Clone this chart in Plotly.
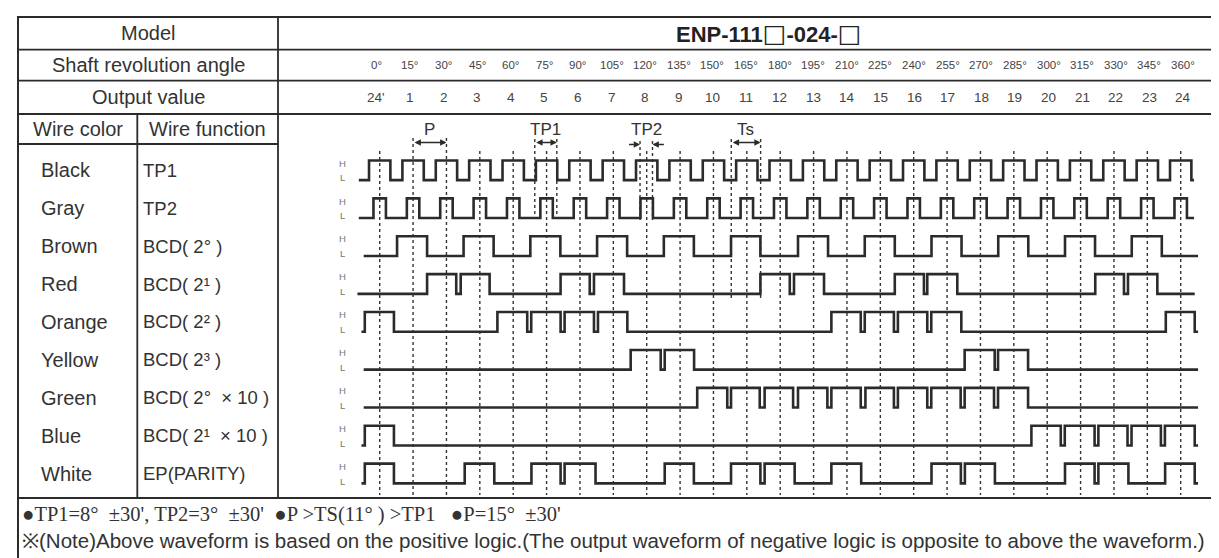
import plotly.graph_objects as go

W, H = 1219, 558

# ---------------- data ----------------
angles = [0, 15, 30, 45, 60, 75, 90, 105, 120, 135, 150, 165, 180, 195, 210, 225,
          240, 255, 270, 285, 300, 315, 330, 345, 360]
angle_labels = ["0°", "15°", "30°", "45°", "60°", "75°", "90°", "105°", "120°", "135°",
                "150°", "165°", "180°", "195°", "210°", "225°", "240°", "255°", "270°",
                "285°", "300°", "315°", "330°", "345°", "360°"]
output_labels = ["24'", "1", "2", "3", "4", "5", "6", "7", "8", "9", "10", "11", "12",
                 "13", "14", "15", "16", "17", "18", "19", "20", "21", "22", "23", "24"]

wire_colors = ["Black", "Gray", "Brown", "Red", "Orange", "Yellow", "Green", "Blue", "White"]
wire_functions = ["TP1", "TP2", "BCD( 2° )", "BCD( 2¹ )", "BCD( 2² )", "BCD( 2³ )",
                  "BCD( 2°  × 10 )", "BCD( 2¹  × 10 )", "EP(PARITY)"]

# waveform start / end angle (deg) and toggle angles (level starts Low)
wave_start = [-9.4, -9.4, -7.2, -10.0, -8.2, -7.2, -7.2, -8.2, -8.2]
wave_end = [366.0, 366.0, 367.8, 366.3, 367.8, 367.8, 367.8, 367.8, 367.8]

black_edges = [-4.8, 4.8, 10.2, 19.8, 25.2, 34.8, 40.2, 49.8, 55.2, 64.8, 70.2, 79.8,
               85.2, 94.8, 100.2, 109.8, 115.2, 124.8, 130.2, 139.8, 145.2, 154.8,
               160.2, 169.8, 175.2, 184.8, 190.2, 199.8, 205.2, 214.8, 220.2, 229.8,
               235.2, 244.8, 250.2, 259.8, 265.2, 274.8, 280.2, 289.8, 295.2, 304.8,
               310.2, 319.8, 325.2, 334.8, 340.2, 349.8, 355.2, 364.8]
gray_edges = [-2.8, 2.8, 12.2, 17.8, 27.2, 32.8, 42.2, 47.8, 57.2, 62.8, 72.2, 77.8,
              87.2, 92.8, 102.2, 107.8, 117.2, 122.8, 132.2, 137.8, 147.2, 152.8,
              162.2, 167.8, 177.2, 182.8, 192.2, 197.8, 207.2, 212.8, 222.2, 227.8,
              237.2, 242.8, 252.2, 257.8, 267.2, 272.8, 282.2, 287.8, 297.2, 302.8,
              312.2, 317.8, 327.2, 332.8, 342.2, 347.8, 357.2, 362.8]
brown_edges = [7.8, 21.3, 37.7, 51.2, 67.7, 81.2, 97.7, 111.2, 127.7, 141.2, 157.9, 171.1,
               188.0, 201.5, 218.0, 231.5, 248.0, 261.5, 278.0, 291.5, 308.0, 321.5,
               338.0, 351.5]
red_edges = [21.3, 34.4, 36.4, 49.4, 81.3, 94.4, 96.3, 109.8, 171.1, 184.3, 186.2, 199.7,
             231.5, 244.6, 246.1, 259.6, 321.6, 334.5, 336.3, 349.5]
orange_edges = [-6.7, 6.4, 52.9, 66.3, 68.1, 81.3, 83.1, 96.3, 98.1, 111.3, 203.0, 216.2,
                218.0, 231.1, 232.9, 246.1, 247.9, 261.4, 353.3, 366.3]
yellow_edges = [112.8, 126.3, 128.1, 141.3, 262.9, 276.4, 277.9, 291.4]
green_edges = [142.7, 156.2, 157.9, 170.8, 173.0, 185.8, 188.0, 201.2, 203.0, 216.2,
               218.3, 231.1, 232.9, 246.1, 247.9, 261.1, 262.9, 276.1, 277.9, 291.4]
blue_edges = [-6.7, 6.4, 292.9, 306.1, 307.9, 321.3, 323.0, 336.1, 337.9, 351.1,
              352.9, 366.3]
white_edges = [-6.7, 6.4, 38.2, 51.5, 68.2, 81.3, 83.1, 97.0, 128.1, 141.2, 157.9, 171.1,
               173.0, 186.5, 203.0, 216.4, 248.0, 261.2, 263.0, 276.5, 308.0, 321.3,
               323.0, 336.5, 353.0, 366.3]
wave_edges = [black_edges, gray_edges, brown_edges, red_edges, orange_edges,
              yellow_edges, green_edges, blue_edges, white_edges]

# timing markers (deg)
p_marker = [15, 30]
tp1_marker = [69.7, 79.6]
tp2_marker = [117.0, 122.6]
ts_marker = [158.0, 171.2]

model_parts = ["ENP-111", "-024-", ""]
note1 = "●TP1=8°  ±30', TP2=3°  ±30'  ●P >TS(11° ) >TP1   ●P=15°  ±30'"
note2 = ("※(Note)Above waveform is based on the positive logic.(The output waveform "
         "of negative logic is opposite to above the waveform.)")

# ---------------- geometry ----------------
PX0, PXD = 371.7, 2.225          # pixel of 0 deg, pixels per degree
ROW0, ROWH = 162.3, 37.9         # pixel of first wire row centre, row pitch
LEV = 0.26                       # half swing in row units
xmin = -PX0 / PXD
xmax = (W - PX0) / PXD
ymax = (H - ROW0) / ROWH
ymin = -ROW0 / ROWH

def ry(p):  # pixel y -> row units
    return (p - ROW0) / ROWH

def pxp(x):
    return x / W

def pyp(y):
    return 1 - y / H

LINE = "#2b2b2b"
TXT = "#333333"
FONT = "Liberation Sans, Arial, sans-serif"

fig = go.Figure()

# dotted guide lines
xs, ys = [], []
for a in angles:
    top = 130 if a in p_marker else 143
    xs += [a, a, None]
    ys += [ry(top), ry(487), None]
for a in tp1_marker:
    xs += [a, a, None]; ys += [ry(131), ry(207), None]
for a in tp2_marker:
    xs += [a, a, None]; ys += [ry(133), ry(212), None]
for a in ts_marker:
    xs += [a, a, None]; ys += [ry(131), ry(293), None]
fig.add_trace(go.Scatter(x=xs, y=ys, mode="lines", hoverinfo="skip",
                         line=dict(color="#333333", width=1.4, dash="3px,3px")))

# waveforms
for i, edges in enumerate(wave_edges):
    hi, lo = i - LEV, i + LEV
    level = lo
    wx, wy = [wave_start[i]], [level]
    for t in edges:
        wx.append(t); wy.append(level)
        level = hi if level == lo else lo
        wx.append(t); wy.append(level)
    wx.append(wave_end[i]); wy.append(level)
    fig.add_trace(go.Scatter(x=wx, y=wy, mode="lines", hoverinfo="skip",
                             line=dict(color=LINE, width=2.6)))

shapes = []
def hline(x0, x1, y, w=1.8):
    shapes.append(dict(type="line", xref="paper", yref="paper", x0=pxp(x0), x1=pxp(x1),
                       y0=pyp(y), y1=pyp(y), line=dict(color=LINE, width=w)))
def vline(x, y0, y1, w=1.8):
    shapes.append(dict(type="line", xref="paper", yref="paper", x0=pxp(x), x1=pxp(x),
                       y0=pyp(y0), y1=pyp(y1), line=dict(color=LINE, width=w)))

LEFT, RIGHT, TOP, BOTTOM = 10, 1212, 9, 553
SEC = 490
shapes.append(dict(type="rect", xref="paper", yref="paper", x0=pxp(LEFT), x1=pxp(RIGHT),
                   y0=pyp(BOTTOM), y1=pyp(TOP), line=dict(color=LINE, width=2)))
for y in [41.7, 72.7, 106, SEC]:
    hline(LEFT, RIGHT, y)
hline(LEFT, 270, 136)
vline(270, TOP, SEC)
vline(129.3, 106, SEC)

ann = []
def text(x, y, s, size, anchor="center", xref="paper", color=TXT, family=FONT, **kw):
    ann.append(dict(x=pxp(x) if xref == "paper" else x, y=pyp(y), xref=xref, yref="paper",
                    text=s, showarrow=False, xanchor=anchor, yanchor="middle",
                    font=dict(size=size, color=color, family=family), **kw))

text(140, 25, "Model", 20)
text(140, 57, "Shaft revolution angle", 20)
text(140, 89, "Output value", 20)
text(69.7, 121, "Wire color", 20)
text(199.7, 121, "Wire function", 20)
box = '<span style="font-family:DejaVu Sans;font-weight:normal;font-size:25px">□</span>'
text(760, 25, "<b>" + model_parts[0] + box + model_parts[1] + box + "</b>", 22,
     color="#222222")

for a, s, o in zip(angles, angle_labels, output_labels):
    shift = -3.4 + 5.7 * a / 360
    text(a, 57, s, 11.5, xref="x", color="#444444", xshift=shift)
    text(a, 89, o, 13.5, xref="x", color="#444444", xshift=shift)

for i, (c, f) in enumerate(zip(wire_colors, wire_functions)):
    yc = ROW0 + i * ROWH
    text(31, yc, c, 20, anchor="left")
    text(133, yc, f, 18.5, anchor="left")
    ann.append(dict(x=-16.9, y=i - 0.19, xref="x", yref="y", text="H", showarrow=False,
                    font=dict(size=9.5, color="#777777", family=FONT)))
    ann.append(dict(x=-16.9, y=i + 0.2, xref="x", yref="y", text="L", showarrow=False,
                    font=dict(size=9.5, color="#777777", family=FONT)))

# marker arrows and labels
def arrow(x_to, x_from, y, both=True):
    ann.append(dict(x=x_to, y=ry(y), ax=x_from, ay=ry(y), xref="x", yref="y",
                    axref="x", ayref="y", text="", showarrow=True,
                    arrowhead=2, arrowsize=0.9, arrowwidth=1.4, arrowcolor=LINE,
                    arrowside="end+start" if both else "end", standoff=0, startstandoff=0))

arrow(p_marker[1], p_marker[0], 134.5)
arrow(tp1_marker[1], tp1_marker[0], 134.5)
arrow(tp2_marker[0], tp2_marker[0] - 5.6, 136.5, both=False)
arrow(tp2_marker[1], tp2_marker[1] + 5.8, 136.5, both=False)
arrow(ts_marker[1], ts_marker[0], 134.5)
for lab, xm in [("P", sum(p_marker) / 2), ("TP1", sum(tp1_marker) / 2),
                ("TP2", sum(tp2_marker) / 2), ("Ts", sum(ts_marker) / 2)]:
    text(xm, 122, lab, 17, xref="x")

text(12, 506, note1, 20.5, anchor="left", family="Liberation Serif, DejaVu Serif, serif")
text(12, 532, note2, 20.5, anchor="left")

fig.update_layout(
    width=W, height=H, margin=dict(l=0, r=0, t=0, b=0),
    paper_bgcolor="white", plot_bgcolor="white", showlegend=False,
    xaxis=dict(range=[xmin, xmax], visible=False, fixedrange=True),
    yaxis=dict(range=[ymax, ymin], visible=False, fixedrange=True),
    shapes=shapes, annotations=ann,
)
fig.write_html("out.html")
